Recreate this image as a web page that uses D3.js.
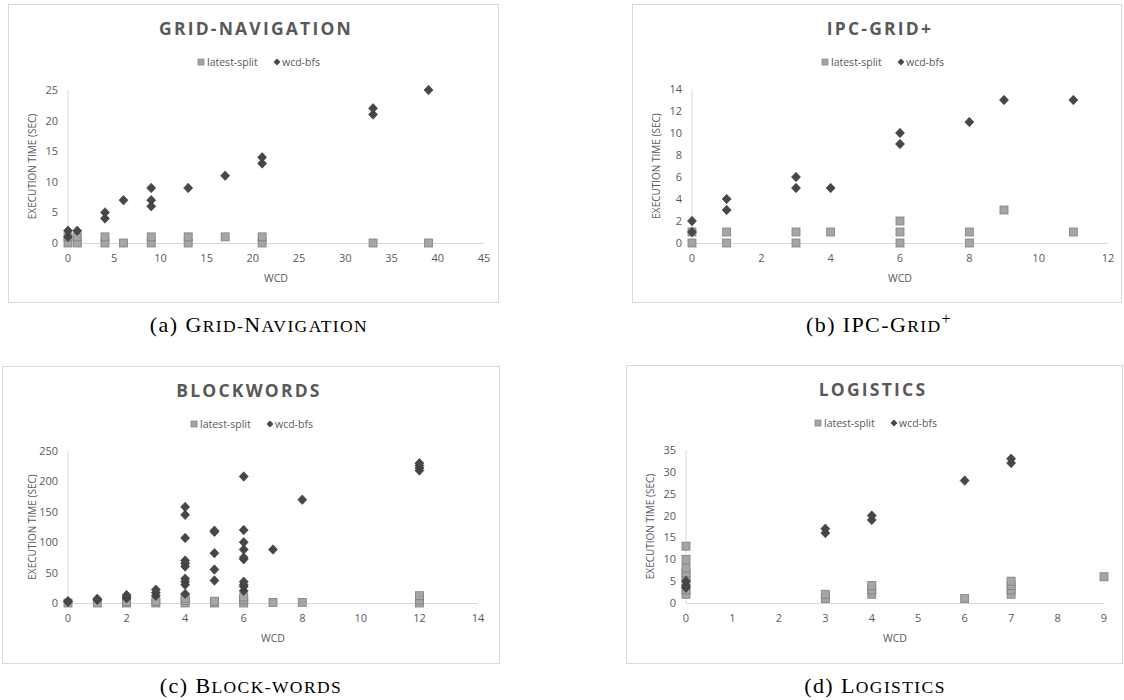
<!DOCTYPE html>
<html>
<head>
<meta charset="utf-8">
<script src="https://cdn.jsdelivr.net/npm/d3@7"></script>
<style>
  body { margin: 0; background: #fff; }
  svg { display: block; }
</style>
</head>
<body>
<svg id="chart" width="1124" height="700"></svg>
<script>
// values: [wcd, seconds]
const gridLatestSplit = [[0,0],[0,1],[1,0],[1,1],[4,0],[4,1],[6,0],[9,0],[9,1],[13,0],[13,1],[17,1],[21,0],[21,1],[33,0],[39,0]];
const gridWcdBfs = [[0,1],[0,2],[1,2],[4,4],[4,5],[6,7],[9,6],[9,7],[9,9],[13,9],[17,11],[21,13],[21,14],[33,21],[33,22],[39,25]];

const ipcLatestSplit = [[0,0],[0,1],[1,0],[1,1],[3,0],[3,1],[4,1],[6,0],[6,1],[6,2],[8,0],[8,1],[9,3],[11,1]];
const ipcWcdBfs = [[0,1],[0,2],[1,3],[1,4],[3,5],[3,6],[4,5],[6,9],[6,10],[8,11],[9,13],[11,13]];

const blocksLatestSplit = [[0,0],[1,0],[2,0],[2,2],[3,0],[3,3],[4,0],[4,4],[4,8],[5,0],[5,3],[6,0],[6,5],[6,10],[7,1],[8,1],[12,0],[12,5],[12,12]];
const blocksWcdBfs = [[0,2],[0,3],[1,5],[1,7],[2,8],[2,10],[2,13],[3,12],[3,17],[3,22],
  [4,15],[4,30],[4,35],[4,40],[4,60],[4,65],[4,70],[4,107],[4,145],[4,158],
  [5,37],[5,55],[5,82],[5,117],[5,119],
  [6,20],[6,27],[6,30],[6,35],[6,72],[6,75],[6,88],[6,100],[6,120],[6,208],
  [7,88],[8,170],[12,218],[12,222],[12,226],[12,230]];

const logLatestSplit = [[0,2],[0,3],[0,5],[0,6],[0,7],[0,8],[0,10],[0,13],[3,1],[3,2],[4,2],[4,3],[4,4],[6,1],[7,2],[7,3],[7,4],[7,5],[9,6]];
const logWcdBfs = [[0,3.5],[0,4],[0,5],[3,16],[3,17],[4,19],[4,20],[6,28],[7,32],[7,33]];

const titles = ['GRID-NAVIGATION', 'IPC-GRID+', 'BLOCKWORDS', 'LOGISTICS'];
const xMaxes = [45, 12, 14, 9];
const xSteps = [5, 2, 2, 1];
const yMaxes = [25, 14, 250, 35];
const ySteps = [5, 2, 50, 5];
const seriesNames = ['latest-split', 'wcd-bfs'];

// caption pieces: [text, isSmallCap]
const captionA = [['(a) ', 0], ['G', 0], ['RID-', 1], ['N', 0], ['AVIGATION', 1]];
const captionB = [['(b) IPC-', 0], ['G', 0], ['RID', 1]];
const captionC = [['(c) ', 0], ['B', 0], ['LOCK-WORDS', 1]];
const captionD = [['(d) ', 0], ['L', 0], ['OGISTICS', 1]];

const panels = [
  { box: [8, 4, 498, 302], plot: [68, 484, 90, 243], cx: 256, latest: gridLatestSplit, wcd: gridWcdBfs },
  { box: [632, 4, 1121, 302], plot: [692, 1108, 89, 243], cx: 880, latest: ipcLatestSplit, wcd: ipcWcdBfs },
  { box: [2, 366, 499, 663], plot: [68, 478, 451, 603], cx: 249, latest: blocksLatestSplit, wcd: blocksWcdBfs },
  { box: [626, 365, 1122, 663], plot: [686, 1104, 450, 603], cx: 873, latest: logLatestSplit, wcd: logWcdBfs }
];

const captions = [
  { x: 259, y: 332, parts: captionA },
  { x: 879, y: 332, parts: captionB, sup: '+' },
  { x: 251, y: 693, parts: captionC },
  { x: 875, y: 693, parts: captionD }
];

const textColor = '#595959';
const axisColor = '#d9d9d9';
const sqFill = '#a5a5a5', sqStroke = '#7f7f7f';
const dmFill = '#474747', dmStroke = '#3a3a3a';
const font = '"Open Sans", sans-serif';

const svg = d3.select('#chart');

panels.forEach((p, i) => {
  const g = svg.append('g');
  const [bx0, by0, bx1, by1] = p.box;
  const [px0, px1, pyTop, pyBot] = p.plot;

  g.append('rect')
    .attr('x', bx0 + 0.5).attr('y', by0 + 0.5)
    .attr('width', bx1 - bx0).attr('height', by1 - by0)
    .attr('fill', '#fff').attr('stroke', '#d9d9d9');

  const x = d3.scaleLinear().domain([0, xMaxes[i]]).range([px0, px1]);
  const y = d3.scaleLinear().domain([0, yMaxes[i]]).range([pyBot, pyTop]);

  // title
  g.append('text')
    .attr('x', p.cx).attr('y', by0 + 31)
    .attr('text-anchor', 'middle')
    .attr('font-family', font).attr('font-weight', 700)
    .attr('font-size', 17.5).attr('letter-spacing', 2.2)
    .attr('fill', textColor)
    .text(titles[i]);

  // legend
  const lg = g.append('g').attr('transform', `translate(${p.cx - 58},${by0 + 58})`);
  lg.append('rect').attr('x', 0).attr('y', -3).attr('width', 6).attr('height', 6)
    .attr('fill', sqFill).attr('stroke', sqStroke).attr('stroke-width', 0.7);
  lg.append('text').attr('x', 9).attr('y', 3.5)
    .attr('font-family', font).attr('font-size', 10.5).attr('fill', textColor)
    .text(seriesNames[0]);
  lg.append('path').attr('d', d3.symbol(d3.symbolDiamond2, 30)())
    .attr('transform', 'translate(79,0)')
    .attr('fill', dmFill);
  lg.append('text').attr('x', 84).attr('y', 3.5)
    .attr('font-family', font).attr('font-size', 10.5).attr('fill', textColor)
    .text(seriesNames[1]);

  // axis lines
  g.append('line').attr('x1', px0).attr('x2', px0).attr('y1', pyTop).attr('y2', pyBot)
    .attr('stroke', axisColor);
  g.append('line').attr('x1', px0).attr('x2', px1).attr('y1', pyBot + 0.5).attr('y2', pyBot + 0.5)
    .attr('stroke', axisColor);

  const xTicks = d3.range(0, xMaxes[i] + 0.001, xSteps[i]);
  const yTicks = d3.range(0, yMaxes[i] + 0.001, ySteps[i]);

  g.selectAll('.xt').data(xTicks).join('text')
    .attr('x', d => x(d)).attr('y', pyBot + 19)
    .attr('text-anchor', 'middle')
    .attr('font-family', font).attr('font-size', 11).attr('fill', textColor)
    .text(d => d);

  g.selectAll('.yt').data(yTicks).join('text')
    .attr('x', px0 - 10).attr('y', d => y(d) + 4)
    .attr('text-anchor', 'end')
    .attr('font-family', font).attr('font-size', 11).attr('fill', textColor)
    .text(d => d);

  g.append('text')
    .attr('x', (px0 + px1) / 2).attr('y', pyBot + 39)
    .attr('text-anchor', 'middle')
    .attr('font-family', font).attr('font-size', 10.5).attr('fill', textColor)
    .text('WCD');

  g.append('text')
    .attr('transform', `translate(${px0 - 32},${(pyTop + pyBot) / 2}) rotate(-90)`)
    .attr('text-anchor', 'middle')
    .attr('font-family', font).attr('font-size', 10).attr('fill', textColor)
    .text('EXECUTION TIME (SEC)');

  // points
  g.selectAll('.sq').data(p.latest).join('rect')
    .attr('x', d => x(d[0]) - 4).attr('y', d => y(d[1]) - 4)
    .attr('width', 8).attr('height', 8)
    .attr('fill', sqFill).attr('stroke', sqStroke).attr('stroke-width', 0.8);

  g.selectAll('.dm').data(p.wcd).join('path')
    .attr('d', d3.symbol(d3.symbolDiamond2, 52)())
    .attr('transform', d => `translate(${x(d[0])},${y(d[1])}) scale(1,1.05)`)
    .attr('fill', dmFill).attr('stroke', dmStroke).attr('stroke-width', 0.6);
});

// captions under the panels, small caps done by hand
captions.forEach(c => {
  const t = svg.append('text')
    .attr('x', c.x).attr('y', c.y)
    .attr('text-anchor', 'middle')
    .attr('font-family', '"Liberation Serif", "Times New Roman", serif')
    .attr('font-size', 22).attr('letter-spacing', 1.4).attr('fill', '#000');
  c.parts.forEach(([s, sc]) => {
    t.append('tspan').attr('font-size', sc ? 17.5 : 22).text(s);
  });
  if (c.sup) {
    t.append('tspan').attr('dy', -8).attr('font-size', 16).text(c.sup);
  }
});
</script>
</body>
</html>
